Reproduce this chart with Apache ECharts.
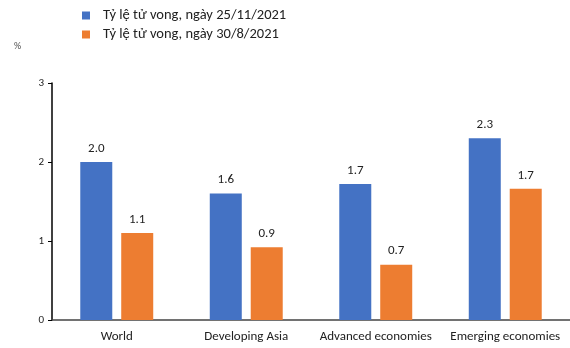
<!DOCTYPE html>
<html><head><meta charset="utf-8">
<script src="https://cdn.jsdelivr.net/npm/echarts@6/dist/echarts.min.js"></script>
<style>html,body{margin:0;padding:0;background:#fff}#c{width:570px;height:348px}</style>
</head><body><div id="c"></div>
<script>
var categories = ['World', 'Developing Asia', 'Advanced economies', 'Emerging economies'];
var seriesNames = ['Tỷ lệ tử vong, ngày 25/11/2021', 'Tỷ lệ tử vong, ngày 30/8/2021'];
var valuesNov = [2.0, 1.6, 1.72, 2.3];
var valuesAug = [1.1, 0.92, 0.7, 1.66];
var yTicks = [0, 1, 2, 3];

var font = 'Carlito, Calibri, "Open Sans", "Noto Sans", sans-serif';
var chart = echarts.init(document.getElementById('c'));
function mk(name, data, color) {
  return {
    name: name, type: 'bar', data: data, barWidth: 32, barGap: '28%',
    itemStyle: { color: color },
    label: { show: true, position: 'top', distance: 7, color: '#222', fontSize: 13, fontFamily: font,
      formatter: function (p) { return p.value.toFixed(1); } }
  };
}
chart.setOption({
  animation: false,
  textStyle: { fontFamily: font },
  legend: {
    orient: 'vertical', left: 77, top: 3, itemWidth: 8, itemHeight: 8, itemGap: 4,
    icon: 'rect', textStyle: { fontSize: 14.5, color: '#222', fontFamily: font, padding: [0, 0, 0, 8] },
    data: seriesNames
  },
  graphic: [{ type: 'text', left: 14, top: 41, style: { text: '%', fontSize: 10, fill: '#555', fontFamily: font } }],
  grid: { left: 52, top: 83, width: 520, height: 237 },
  xAxis: {
    type: 'category', data: categories,
    axisLine: { lineStyle: { color: '#444', width: 1.5 } },
    axisTick: { show: false },
    axisLabel: { fontSize: 13, color: '#222', margin: 10, interval: 0, fontFamily: font }
  },
  yAxis: {
    type: 'value', min: yTicks[0], max: yTicks[yTicks.length - 1], interval: 1,
    splitLine: { show: false },
    axisLine: { show: true, lineStyle: { color: '#000', width: 1.5 } },
    axisTick: { show: true, inside: false, length: 4, lineStyle: { color: '#000' } },
    axisLabel: { fontSize: 11, color: '#222', margin: 8, fontFamily: font }
  },
  series: [mk(seriesNames[0], valuesNov, '#4472C4'), mk(seriesNames[1], valuesAug, '#ED7D31')]
});
</script></body></html>
